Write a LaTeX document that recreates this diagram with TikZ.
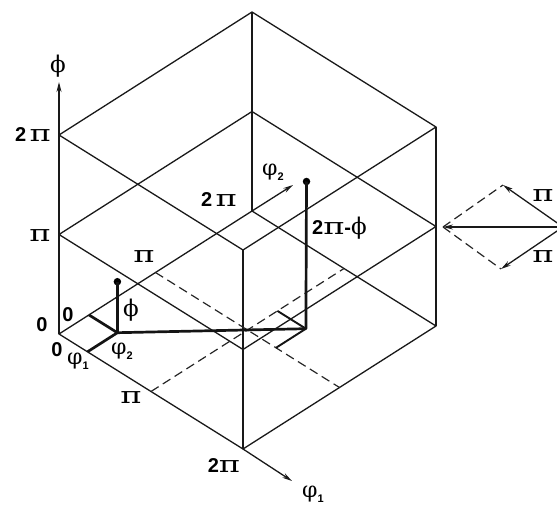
\documentclass[tikz,border=0pt]{standalone}
\usepackage{fontspec}
\setmainfont{Liberation Sans}
\newfontfamily\grk{DejaVu Serif}
\usetikzlibrary{arrows.meta}
\newcommand{\mypi}{{\grk\mdseries\fontsize{23}{23}\selectfont\scalebox{1.4}[1]{π}}}
\newcommand{\myphi}{{\grk\mdseries\fontsize{23}{23}\selectfont ϕ}}
\newcommand{\myvphi}[1]{{\grk\mdseries\fontsize{22}{22}\selectfont φ}\raisebox{-5pt}{\fontsize{11}{11}\selectfont #1}}
\begin{document}
\begin{tikzpicture}[x=1pt,y=-1pt,line join=round,
  edge/.style={line width=1.3pt,draw=black!90},
  thickln/.style={line width=2.7pt,draw=black!92},
  medln/.style={line width=1.9pt,draw=black!92},
  dashln/.style={line width=1.2pt,draw=black!85,dash pattern=on 9pt off 5pt},
  lbl/.style={inner sep=0pt,font=\bfseries\fontsize{20}{20}\selectfont},
  arr/.style={-{Stealth[length=10pt,width=5pt]}},
  dotst/.style={circle,fill=black,inner sep=0pt,minimum size=7.5pt}]
\useasboundingbox (0,0) rectangle (557,508);
\clip (0,0) rectangle (557,508);
% cube vertices
\coordinate (A0) at (59,334);   \coordinate (B0) at (243,449);
\coordinate (C0) at (436,326);  \coordinate (D0) at (252,211);
\coordinate (A1) at (59,234.5); \coordinate (B1) at (243,349.5);
\coordinate (C1) at (436,226.5);\coordinate (D1) at (252,111.5);
\coordinate (A2) at (59,135);   \coordinate (B2) at (243,250);
\coordinate (C2) at (436,127);  \coordinate (D2) at (252,12);
\coordinate (phiTip) at (59,82);
\coordinate (p1Tip) at (292,481);
\coordinate (p2Tip) at (293,185);
% dashed mid lines
\coordinate (M1) at (155.5,272.5); \coordinate (M2) at (339.5,387.5);
\coordinate (N1) at (151,391.5);   \coordinate (N2) at (344,268.5);
% points
\coordinate (P) at (117.4,332.7);
\coordinate (Pa) at (87.5,351.8);
\coordinate (Pb) at (88.9,314.9);
\node[dotst] (Pd) at (117.4,281.7) {};
\coordinate (Q) at (305.9,328.7);
\coordinate (Qa) at (277.4,310.9);
\coordinate (Qb) at (276,347.8);
\node[dotst] (Qd) at (306.5,181.5) {};
% right diagram
\coordinate (L) at (443,227);
\coordinate (T) at (503,185);
\coordinate (Bt) at (501,269);
\coordinate (R) at (563,227);

% cube
\draw[edge] (A0) -- (B0) -- (C0) -- (D0) -- cycle;
\draw[edge] (A1) -- (B1) -- (C1) -- (D1) -- cycle;
\draw[edge] (A2) -- (B2) -- (C2) -- (D2) -- cycle;
\draw[edge] (B0) -- (B2);
\draw[edge] (C0) -- (C2);
\draw[edge] (D0) -- (D2);
\draw[edge,arr] (A0) -- (phiTip);
\draw[edge,arr] (B0) -- (p1Tip);
\draw[edge,arr] (D0) -- (p2Tip);
\draw[dashln] (M1) -- (M2);
\draw[dashln] (N1) -- (N2);
% thick path
\draw[thickln] (Pa) -- (P) -- (Pb);
\draw[thickln] (P) -- (Pd.center);
\draw[thickln] (P) -- (Q) -- (Qd.center);
\draw[medln] (Qa) -- (Q) -- (Qb);
% right diagram
\draw[dashln] (L) -- (T);
\draw[dashln] (L) -- (Bt);
\draw[edge,arr] (R) -- (T);
\draw[edge,arr] (R) -- (Bt);
\draw[edge,arr] (R) -- (L);

% labels
\node[lbl] (lphi) at (58,66) {\myphi};
\node[lbl] (l2pi) at (33,135) {2\,\mypi};
\node[lbl] (lpi) at (40,236) {\mypi};
\node[lbl] (l0a) at (42,325) {0};
\node[lbl] (l0b) at (68,315) {0};
\node[lbl] (l0c) at (57,350) {0};
\node[lbl] (lp1) at (78,361) {\myvphi{1}};
\node[lbl] (lp2) at (122,351) {\myvphi{2}};
\node[lbl] (lphi2) at (131,310) {\myphi};
\node[lbl] (lpiu) at (144,257) {\mypi};
\node[lbl] (lpid) at (131,398) {\mypi};
\node[lbl] (l2piback) at (219,200) {2\,\mypi};
\node[lbl] (lp2ax) at (273,172) {\myvphi{2}};
\node[lbl,anchor=west] (l2pm) at (312,228) {2\mypi-\myphi};
\node[lbl] (l2pifront) at (224,466) {2\mypi};
\node[lbl] (lp1ax) at (313,494) {\myvphi{1}};
\node[lbl] (rpiu) at (543,196) {\mypi};
\node[lbl] (rpid) at (543,257) {\mypi};
\end{tikzpicture}
\end{document}
